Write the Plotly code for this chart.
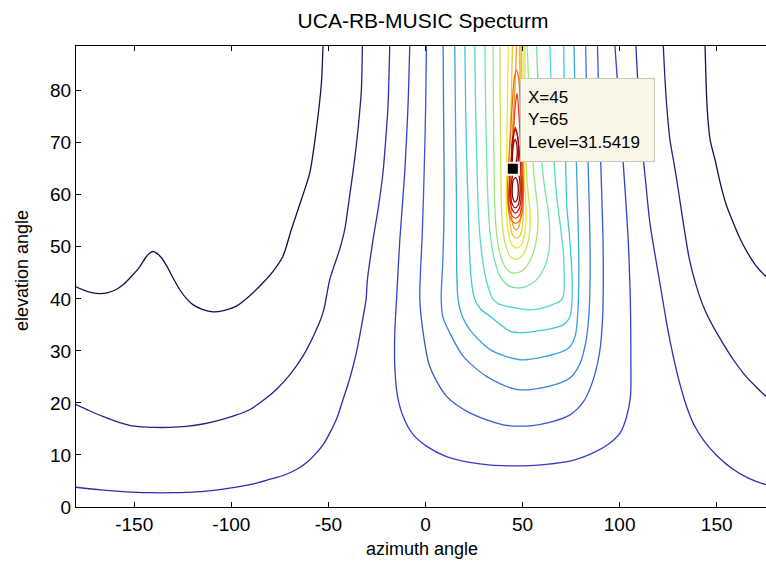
import plotly.graph_objects as go
from plotly.colors import sample_colorscale

# ---------------------------------------------------------------------------
# Contour levels of the spectrum (dB), outermost (lowest) to innermost (peak)
# ---------------------------------------------------------------------------
levels = [-5.51, -3.56, -1.61, 0.34, 2.29, 4.24, 6.19, 8.14, 10.09, 12.04,
          13.99, 15.94, 17.89, 19.84, 21.79, 23.74, 25.69, 27.64, 29.59, 31.5419]

# Three outer contours wrap around the azimuth axis: one piece enters from the
# top left of the peak and leaves at -180, the other comes back in at +180.
c1_left_az = [-52.8, -53.6, -56.2, -59.6, -63.9, -69.1, -73.4, -78.5, -83.7, -90.5, -97.4,
              -103.5, -109.5, -115.0, -119.8, -123.0, -126.6, -130.0, -133.5, -136.0, -138.5,
              -140.4, -142.0, -144.0, -147.5, -151.5, -155.5, -159.3, -163.5, -167.9, -174.0, -180.0]
c1_left_el = [88.6, 81.5, 72.6, 64.2, 59.1, 53.3, 48.2, 45.3, 43.1, 40.6, 38.6,
              37.8, 37.5, 38.0, 38.9, 40.0, 41.8, 44.0, 46.5, 47.9, 48.8,
              49.1, 48.8, 48.0, 46.0, 44.3, 42.8, 41.8, 41.2, 41.0, 41.4, 42.3]
c1_right_az = [180.0, 175.4, 170.0, 166.0, 162.0, 158.6, 155.0, 152.0, 149.3, 146.6, 145.2, 144.5, 144.0]
c1_right_el = [43.0, 44.3, 46.5, 48.8, 51.6, 54.6, 58.0, 62.0, 66.5, 70.6, 76.0, 82.0, 88.6]

c2_left_az = [-32.5, -33.0, -34.0, -35.3, -36.6, -38.1, -39.8, -41.6, -44.2, -46.8, -49.3, -52.8,
              -57.5, -63.1, -69.5, -76.8, -83.5, -90.6, -98.0, -106.0, -114.0, -123.2, -132.0,
              -140.0, -146.0, -152.4, -159.0, -166.2, -173.0, -180.0]
c2_left_el = [88.6, 80.2, 75.5, 70.6, 66.5, 62.3, 57.8, 53.3, 49.5, 46.6, 43.7, 37.3,
              33.0, 29.0, 25.6, 22.6, 20.5, 18.7, 17.6, 16.7, 16.0, 15.5, 15.3,
              15.3, 15.4, 15.7, 16.4, 17.4, 18.5, 19.7]
c2_right_az = [180.0, 175.4, 170.0, 164.0, 158.6, 153.0, 148.0, 143.1, 139.5, 136.0, 132.8,
               130.0, 127.8, 125.9, 124.5, 123.4, 122.5]
c2_right_el = [20.4, 21.3, 23.2, 25.6, 28.3, 31.6, 34.8, 38.6, 42.5, 47.5, 54.6,
               61.5, 66.5, 70.6, 76.0, 82.0, 88.6]

c3_left_az = [-18.4, -19.3, -20.5, -21.9, -24.3, -27.0, -29.9, -30.6, -33.0, -35.0, -37.3, -39.8,
              -42.5, -45.5, -49.3, -52.5, -56.2, -61.0, -66.5, -73.0, -80.3, -88.0, -97.4,
              -107.0, -118.0, -130.0, -142.0, -154.0, -167.0, -180.0]
c3_left_el = [88.6, 77.0, 70.5, 64.2, 57.5, 51.4, 43.7, 39.9, 34.7, 30.7, 27.0, 23.7,
              20.6, 17.2, 14.2, 12.1, 10.4, 8.6, 7.2, 6.1, 5.3, 4.5, 3.8,
              3.3, 2.9, 2.75, 2.75, 2.9, 3.3, 3.8]
c3_right_az = [180.0, 175.4, 166.0, 158.6, 150.0, 143.1, 138.3, 134.5, 131.0, 128.5, 126.2,
               124.2, 121.0, 118.0, 115.6, 113.4, 111.3, 109.6, 108.4]
c3_right_el = [4.0, 4.3, 5.6, 7.2, 9.9, 12.9, 15.8, 19.3, 23.7, 27.5, 31.5,
               35.4, 42.5, 49.0, 54.6, 62.5, 70.6, 80.0, 88.6]

# U-shaped contours hanging from the top edge around the source peak
u1_az = [-8.1, -9.0, -10.7, -13.2, -14.9, -15.8, -15.8, -14.4, -11.5, -6.3, 0.5, 10.8, 28.0,
         45.2, 62.4, 74.4, 86.4, 94.0, 100.2, 103.5, 105.6, 105.8, 105.5, 104.4, 102.8,
         101.0, 99.2, 97.6]
u1_el = [88.6, 77.0, 64.2, 51.4, 39.9, 33.5, 27.0, 21.3, 17.4, 13.9, 11.7, 9.7, 8.3,
         7.9, 8.2, 8.8, 10.4, 12.0, 14.2, 17.2, 21.3, 28.0, 40.0, 51.4, 61.0,
         70.6, 80.0, 88.6]

u2_az = [0.5, 0.1, -0.7, -1.7, -2.6, -2.9, -1.2, 2.2, 10.8, 22.8, 40.0, 53.8, 64.5, 74.4,
         81.5, 86.0, 89.6, 91.2, 91.6, 91.4, 90.8, 89.9, 89.2, 88.6]
u2_el = [88.6, 77.0, 64.0, 52.0, 45.0, 39.9, 33.5, 27.0, 21.3, 18.1, 15.8, 15.6, 16.3, 17.7,
         20.3, 24.0, 29.5, 36.0, 44.0, 52.0, 60.0, 70.6, 80.0, 88.6]

u3_az = [9.1, 9.3, 9.6, 9.5, 8.9, 8.1, 9.0, 12.5, 19.4, 31.4, 46.9, 62.4, 74.4, 79.5, 82.5,
         84.2, 84.8, 84.7, 84.2, 83.5, 83.0, 82.5]
u3_el = [88.6, 77.0, 64.0, 55.0, 47.0, 39.9, 36.5, 33.5, 29.0, 25.1, 22.6, 23.1, 24.8, 27.5,
         31.5, 37.0, 44.0, 52.0, 60.0, 70.0, 80.0, 88.6]

u4_az = [15.1, 15.4, 15.8, 16.0, 16.0, 16.2, 16.8, 19.0, 22.8, 33.1, 48.6, 62.4, 70.0, 74.4,
         77.2, 78.5, 79.0, 78.8, 78.2, 77.5, 77.0, 76.5]
u4_el = [88.6, 77.0, 64.0, 58.0, 50.0, 44.0, 39.9, 36.6, 34.1, 30.3, 28.3, 29.0, 29.8, 30.8,
         33.0, 37.5, 44.0, 52.0, 60.0, 70.0, 80.0, 88.6]

u5_az = [20.3, 20.7, 21.3, 22.0, 22.6, 23.5, 25.4, 28.5, 33.1, 43.5, 50.0, 57.2, 66.0, 71.0,
         74.4, 75.5, 75.3, 74.2, 72.8, 72.0, 71.5, 71.2]
u5_el = [88.6, 77.0, 66.0, 58.0, 50.0, 44.0, 39.9, 38.0, 36.7, 33.8, 33.5, 33.8, 34.4, 35.0,
         36.5, 40.0, 46.0, 52.0, 58.0, 70.0, 80.0, 88.6]

u6_az = [25.4, 25.8, 26.5, 27.1, 28.3, 30.5, 32.5, 34.8, 37.8, 41.7, 47.5, 53.8, 60.0, 66.0,
         69.5, 71.0, 71.5, 71.0, 69.5, 67.5, 66.0, 65.0, 64.1]
u6_el = [88.6, 77.0, 66.0, 58.0, 51.0, 45.0, 42.0, 39.9, 39.0, 38.6, 38.2, 37.9, 38.2, 39.0,
         39.6, 40.5, 44.0, 49.0, 54.0, 60.0, 68.0, 78.0, 88.6]

u7_az = [30.6, 31.0, 31.6, 32.3, 33.5, 35.5, 38.5, 42.5, 47.0, 52.0, 57.0, 61.0, 63.5, 64.0,
         63.2, 61.5, 60.0, 58.8, 58.0, 57.2]
u7_el = [88.6, 77.0, 66.0, 58.0, 52.0, 47.5, 44.3, 42.6, 42.1, 42.4, 43.6, 45.8, 49.0, 53.0,
         57.0, 61.0, 66.0, 74.0, 81.0, 88.6]

u8_az = [34.8, 35.0, 35.3, 35.7, 36.5, 38.2, 40.8, 44.0, 47.5, 51.0, 54.5, 57.0, 58.0, 57.6,
         56.4, 55.2, 54.0, 53.1, 52.4]
u8_el = [88.6, 77.0, 66.0, 58.0, 53.0, 49.0, 46.3, 45.1, 45.0, 45.8, 47.8, 51.0, 54.5, 58.0,
         62.0, 67.0, 75.0, 82.0, 88.6]

u9_az = [38.3, 38.5, 38.8, 39.1, 39.8, 41.5, 44.0, 47.0, 50.0, 52.5, 53.8, 53.8, 52.9, 52.0,
         51.5, 51.3, 51.2]
u9_el = [88.6, 77.0, 66.0, 58.0, 53.5, 50.0, 48.0, 47.6, 48.4, 50.5, 53.5, 57.0, 60.0, 65.0,
         72.0, 80.0, 88.6]

u10_az = [42.6, 42.2, 41.8, 41.7, 42.2, 43.5, 45.5, 47.5, 49.5, 51.0, 51.8, 51.6, 50.9, 50.5,
          50.3, 50.2]
u10_el = [88.6, 77.0, 66.0, 58.0, 54.0, 51.3, 50.0, 49.8, 50.5, 52.3, 55.0, 59.0, 63.0, 70.0,
          78.0, 88.6]

u11_az = [44.8, 44.2, 43.4, 43.0, 43.3, 44.5, 46.3, 48.2, 49.6, 50.3, 50.3, 49.8, 49.5, 49.4,
          49.4]
u11_el = [88.6, 78.0, 68.0, 60.0, 55.5, 52.7, 51.7, 51.9, 53.2, 55.5, 59.0, 64.0, 72.0, 80.0,
          88.6]

u12_az = [46.9, 46.0, 44.8, 44.2, 44.1, 44.6, 45.8, 47.2, 48.4, 49.2, 49.4, 49.0, 48.8, 48.7,
          48.6]
u12_el = [88.6, 80.0, 72.0, 64.0, 58.0, 55.0, 53.5, 53.3, 54.2, 56.5, 60.0, 65.0, 72.0, 80.0,
          88.6]

# closed loops in the core of the peak
u13_az = [46.4, 48.6, 50.0, 50.5, 50.2, 49.6, 48.9, 47.9, 46.9, 45.8, 44.8, 43.8, 42.8, 42.3,
          42.8, 44.4, 46.4]
u13_el = [54.5, 55.1, 57.0, 60.5, 65.0, 72.0, 78.0, 82.5, 84.0, 82.5, 78.0, 72.0, 66.0, 61.0,
          57.0, 55.1, 54.5]

u14_az = [46.4, 48.4, 49.6, 50.0, 49.7, 49.0, 48.2, 47.2, 46.2, 45.3, 44.3, 43.3, 42.8, 43.4,
          44.7, 46.4]
u14_el = [55.5, 56.1, 57.8, 60.5, 65.0, 70.0, 75.0, 79.5, 77.0, 72.0, 67.0, 62.5, 59.5, 57.0,
          55.9, 55.5]

u15_az = [46.3, 48.0, 49.1, 49.4, 49.0, 48.3, 47.3, 46.3, 45.3, 44.3, 43.4, 43.6, 44.7, 46.3]
u15_el = [56.5, 57.1, 58.8, 61.5, 65.0, 68.5, 71.5, 73.0, 71.0, 67.0, 62.5, 59.0, 57.1, 56.5]

u16a_az = [46.2, 47.8, 48.6, 48.7, 48.1, 46.8, 45.3, 44.2, 43.9, 44.5, 46.2]
u16a_el = [57.5, 58.1, 59.8, 62.0, 63.8, 64.5, 64.0, 62.3, 60.2, 58.4, 57.5]
u16b_az = [46.0, 47.5, 48.0, 47.8, 47.0, 46.0, 45.0, 44.4, 44.6, 46.0]
u16b_el = [65.3, 66.1, 68.0, 70.2, 72.0, 72.5, 71.0, 68.5, 66.3, 65.3]

u17_az = [45.0, 46.2, 47.0, 47.3, 47.0, 46.2, 45.4, 44.9, 44.7, 45.0]
u17_el = [65.0, 65.7, 66.8, 68.3, 69.8, 70.6, 69.9, 68.3, 66.5, 65.0]
u17b_az = [46.1, 47.3, 47.8, 47.5, 46.4, 45.2, 44.7, 45.0, 46.1]
u17b_el = [58.6, 59.2, 60.7, 62.4, 63.3, 62.8, 61.2, 59.4, 58.6]

# data cursor
tip_az = 45
tip_el = 65
tip_level = 31.5419

x_ticks = [-150, -100, -50, 0, 50, 100, 150]
y_ticks = [0, 10, 20, 30, 40, 50, 60, 70, 80]

# ---------------------------------------------------------------------------
# contour pieces per level (same order as `levels`)
contour_pieces = [
    [(c1_left_az, c1_left_el), (c1_right_az, c1_right_el)],
    [(c2_left_az, c2_left_el), (c2_right_az, c2_right_el)],
    [(c3_left_az, c3_left_el), (c3_right_az, c3_right_el)],
    [(u1_az, u1_el)], [(u2_az, u2_el)], [(u3_az, u3_el)], [(u4_az, u4_el)],
    [(u5_az, u5_el)], [(u6_az, u6_el)], [(u7_az, u7_el)], [(u8_az, u8_el)],
    [(u9_az, u9_el)], [(u10_az, u10_el)], [(u11_az, u11_el)], [(u12_az, u12_el)],
    [(u13_az, u13_el)], [(u14_az, u14_el)], [(u15_az, u15_el)],
    [(u16a_az, u16a_el), (u16b_az, u16b_el)],
    [(u17_az, u17_el), (u17b_az, u17b_el)],
]

# jet-like colormap, slightly muted as it prints on screen
jet = [[0.0, "rgb(18,18,84)"], [0.06, "rgb(36,36,140)"], [0.125, "rgb(52,52,185)"],
       [0.19, "rgb(58,72,205)"], [0.26, "rgb(58,125,215)"], [0.33, "rgb(55,175,220)"],
       [0.40, "rgb(70,215,215)"], [0.48, "rgb(120,228,165)"], [0.56, "rgb(185,232,95)"],
       [0.63, "rgb(240,230,45)"], [0.72, "rgb(245,175,30)"], [0.80, "rgb(240,100,25)"],
       [0.87, "rgb(225,35,25)"], [0.94, "rgb(180,10,10)"], [1.0, "rgb(135,0,0)"]]
lo, hi = min(levels), max(levels)

fig = go.Figure()
for lev, pieces in zip(levels, contour_pieces):
    color = sample_colorscale(jet, [(lev - lo) / (hi - lo)])[0]
    for az, el in pieces:
        fig.add_trace(go.Scatter(x=az, y=el, mode="lines",
                                 line=dict(color=color, width=1.3, shape="spline", smoothing=0.8),
                                 hoverinfo="skip", showlegend=False))

# data cursor marker
fig.add_trace(go.Scatter(x=[tip_az], y=[tip_el], mode="markers",
                         marker=dict(symbol="square", size=12, color="black",
                                     line=dict(color="#FBF7E8", width=2)),
                         hoverinfo="skip", showlegend=False))

fig.add_annotation(x=tip_az, y=tip_el, xref="x", yref="y", showarrow=False,
                   xanchor="left", yanchor="bottom", xshift=7, yshift=7,
                   align="left", valign="middle", width=119, height=68,
                   text=f"X={tip_az}<br>Y={tip_el}<br>Level={tip_level}",
                   bgcolor="#FBF7E8", bordercolor="#C9C5B8", borderwidth=1, borderpad=7,
                   font=dict(size=17, color="black", family="Liberation Sans, Arial"))

fig.add_annotation(text="azimuth angle", xref="paper", yref="paper",
                   x=(422 - 76) / 690, y=(507 - 549) / 461, showarrow=False,
                   xanchor="center", yanchor="middle",
                   font=dict(size=18, color="black"))
fig.add_annotation(text="elevation angle", xref="paper", yref="paper", textangle=-90,
                   x=(22 - 76) / 690, y=(507 - 270) / 461, showarrow=False,
                   xanchor="center", yanchor="middle",
                   font=dict(size=18, color="black"))

fig.update_layout(
    width=766, height=563,
    margin=dict(l=76, r=0, t=46, b=56),
    paper_bgcolor="white", plot_bgcolor="white",
    font=dict(family="Liberation Sans, Arial", color="black"),
    showlegend=False,
    title=dict(text="UCA-RB-MUSIC Specturm", x=423 / 766, xanchor="center",
               xref="container", y=1 - 21 / 563, yref="container", yanchor="middle",
               font=dict(size=21, color="black")),
)
fig.update_xaxes(range=[-180, 175.4], tickvals=x_ticks, ticktext=[str(v) for v in x_ticks],
                 ticks="inside", ticklen=5,
                 tickcolor="black", showline=True, linecolor="black", linewidth=1,
                 mirror="ticks", showgrid=False, zeroline=False,
                 tickfont=dict(size=19, color="black"), ticklabelstandoff=0)
fig.update_yaxes(range=[0, 88.6], tickvals=y_ticks, ticktext=[str(v) for v in y_ticks],
                 ticks="inside", ticklen=5,
                 tickcolor="black", showline=True, linecolor="black", linewidth=1,
                 mirror=False, showgrid=False, zeroline=False,
                 tickfont=dict(size=19, color="black"), ticklabelstandoff=0)

fig.write_html("out.html")
